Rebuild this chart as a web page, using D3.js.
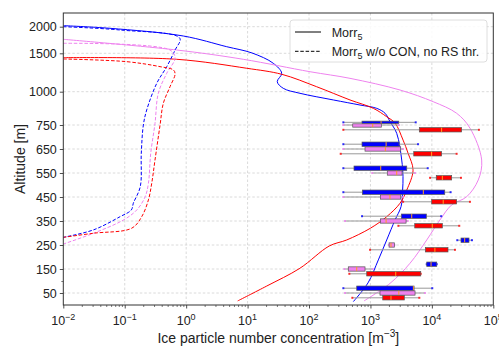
<!DOCTYPE html>
<html><head><meta charset="utf-8">
<script src="https://cdn.jsdelivr.net/npm/d3@7"></script>
<style>
body{margin:0;background:#fff}
svg{display:block;font-family:"Liberation Sans",Arial,sans-serif}
</style>
</head><body>
<svg id="chart" width="499" height="347"></svg>
<script>
// ---------- data ----------
const xTickValues = [1e-2, 1e-1, 1e0, 1e1, 1e2, 1e3, 1e4, 1e5];
const xTickExponents = ["\u22122", "\u22121", "0", "1", "2", "3", "4", "5"];
const yTickValues = [50, 150, 250, 350, 450, 550, 650, 750, 1000, 1500, 2000];
const yMinorTicks = [100];
const levels = [50, 150, 250, 350, 450, 550, 650, 750];

// box stats per level: [whiskerLow, q1, median, q3, whiskerHigh]
const boxBlue = [
  [362, 598, 5000, 5130, 10150],
  [8250, 8250, 9700, 12000, 12000],
  [25900, 29800, 34200, 40200, 45000],
  [729, 3180, 4700, 8130, 14200],
  [362, 738, 7260, 16200, 20200],
  [362, 540, 1470, 3900, 8570],
  [362, 729, 1800, 2920, 5960],
  [362, 729, 1490, 2890, 5460]
];
const boxViolet = [
  [385, 1430, 2900, 5320, 7740],
  [376, 436, 598, 816, 1090],
  [2010, 2010, 2160, 2450, 2450],
  [385, 1450, 1800, 3800, 4050],
  [362, 1450, 2080, 3110, 3400],
  [1070, 1880, 2680, 3270, 5320],
  [362, 816, 1750, 3110, 3400],
  [362, 515, 1090, 1505, 2920]
];
const boxRed = [
  [507, 1585, 2160, 3560, 6250],
  [453, 870, 2580, 6590, 6590],
  [985, 7830, 11200, 18300, 23800],
  [2850, 5260, 10150, 14800, 27900],
  [3400, 9930, 15300, 25300, 41700],
  [9340, 11800, 14800, 21000, 29800],
  [328, 5070, 9900, 14400, 25300],
  [362, 6250, 14400, 30500, 58400]
];

// profiles: [concentration, altitude]
const solidBlue = [[0.01,2019],[0.0575,1970],[0.9,1825],[4.57,1624],[11.8,1506],[26.2,1370],[35.9,1240],[30.4,1130],[38.1,1044],[71.3,988],[249,938],[676,900],[1267,875],[1729,838],[2084,775],[2680,715],[3230,604],[3390,535],[3340,479],[3150,410],[2510,354],[1840,271],[1345,188],[912,92],[526,14]];
const solidViolet = [[0.01,1763],[0.70,1562],[8.5,1422],[104,1260],[465,1174],[3030,1022],[10500,925],[25300,838],[41700,737],[64700,604],[56900,521],[36800,451],[21000,417],[13500,354],[8250,271],[4410,174],[2080,90],[786,17]];
const solidRed = [[0.01,1443],[0.70,1422],[9.7,1305],[35.9,1227],[133,1065],[465,938],[1115,875],[1840,812],[2510,765],[3400,687],[4090,633],[4940,562],[3900,479],[3030,424],[1840,368],[1000,320],[411,271],[214,246],[71,153],[20.5,79],[6.9,17]];
const dashBlue = [[0.01,2000],[0.084,1938],[0.79,1782],[0.66,1562],[0.483,1326],[0.332,1109],[0.228,863],[0.201,750],[0.186,632],[0.179,493],[0.138,424],[0.128,396],[0.084,368],[0.031,313],[0.01,282]];
const dashViolet = [[0.01,1688],[0.546,1562],[0.66,1439],[0.483,1240],[0.352,988],[0.311,762],[0.265,632],[0.243,507],[0.215,451],[0.157,396],[0.095,354],[0.031,299],[0.01,254]];
const dashRed = [[0.01,1426],[0.108,1391],[0.376,1326],[0.62,1283],[0.66,1230],[0.546,1065],[0.425,913],[0.376,750],[0.311,604],[0.275,507],[0.243,438],[0.189,368],[0.13,320],[0.031,299],[0.01,282]];

const legendLabels = [["Morr", "5", ""], ["Morr", "5", " w/o CON, no RS thr."]];
const xLabel = "Ice particle number concentration [m";
const yLabel = "Altitude [m]";

// ---------- layout ----------
const L = 63.3, R = 493.3, T = 13, B = 305;
const svg = d3.select("#chart");

const x = d3.scaleLog().domain([1e-2, 1e5]).range([L, R]);
const y = d3.scaleLinear().domain([0, 750, 1000, 1500, 2000, 2250])
  .range([B, 125, 91.7, 53.3, 26.7, T]);

svg.append("defs").append("clipPath").attr("id", "clip")
  .append("rect").attr("x", L).attr("y", T).attr("width", R - L).attr("height", B - T);

// grid
const grid = svg.append("g");
grid.selectAll("line.gx").data(xTickValues.slice(1, -1)).join("line")
  .attr("x1", d => x(d)).attr("x2", d => x(d)).attr("y1", T).attr("y2", B)
  .attr("stroke", "#d0d0d0").attr("stroke-width", 0.8).attr("stroke-dasharray", "2.5,2");
grid.selectAll("line.gy").data(yTickValues).join("line")
  .attr("y1", d => y(d)).attr("y2", d => y(d)).attr("x1", L).attr("x2", R)
  .attr("stroke", "#d0d0d0").attr("stroke-width", 0.8).attr("stroke-dasharray", "2.5,2");

// profile lines
const plot = svg.append("g").attr("clip-path", "url(#clip)");
const line = d3.line().x(d => x(d[0])).y(d => y(d[1])).curve(d3.curveCatmullRom.alpha(0.5));
const profiles = [
  [solidBlue, "#0000ff", null], [solidViolet, "#ee82ee", null], [solidRed, "#ff0000", null],
  [dashBlue, "#0000ff", "3.5,1.8"], [dashViolet, "#ee82ee", "3.5,1.8"], [dashRed, "#ff0000", "3.5,1.8"]
];
profiles.forEach(([data, col, dash]) => {
  plot.append("path").datum(data).attr("d", line).attr("fill", "none")
    .attr("stroke", col).attr("stroke-width", 1).attr("stroke-dasharray", dash);
});

// boxes
const boxSeries = [[boxBlue, "#0000ff", 20], [boxViolet, "#ee82ee", 0], [boxRed, "#ff0000", -20]];
const halfH = 9;
boxSeries.forEach(([stats, col, off]) => {
  const g = plot.append("g");
  stats.forEach((s, i) => {
    const c = levels[i] + off;
    const yc = y(c), yt = y(c + halfH), yb = y(c - halfH);
    g.append("line").attr("x1", x(s[0])).attr("x2", x(s[1])).attr("y1", yc).attr("y2", yc)
      .attr("stroke", "#999").attr("stroke-width", 1);
    g.append("line").attr("x1", x(s[3])).attr("x2", x(s[4])).attr("y1", yc).attr("y2", yc)
      .attr("stroke", "#999").attr("stroke-width", 1);
    [s[0], s[4]].forEach(v => {
      g.append("rect").attr("x", x(v) - 1).attr("y", yc - 1).attr("width", 2).attr("height", 2)
        .attr("fill", col).attr("opacity", 0.8);
    });
    g.append("rect").attr("x", x(s[1])).attr("y", yt).attr("width", Math.max(1, x(s[3]) - x(s[1])))
      .attr("height", yb - yt).attr("fill", col).attr("stroke", "#555").attr("stroke-width", 0.7);
    g.append("line").attr("x1", x(s[2])).attr("x2", x(s[2])).attr("y1", yt).attr("y2", yb)
      .attr("stroke", "#ff9f1e").attr("stroke-width", 1);
  });
});

// axes
const axB = svg.append("g").attr("transform", `translate(0,${B})`)
  .call(d3.axisBottom(x).tickValues(xTickValues).tickSize(3.5).tickFormat(""));
axB.select(".domain").remove();
axB.selectAll(".tick line").attr("stroke", "#222").attr("stroke-width", 0.8);
const minor = x.ticks().filter(v => !xTickValues.includes(v));
const axBm = svg.append("g").attr("transform", `translate(0,${B})`)
  .call(d3.axisBottom(x).tickValues(minor).tickSize(2).tickFormat(""));
axBm.select(".domain").remove();
axBm.selectAll(".tick line").attr("stroke", "#222").attr("stroke-width", 0.6);

const xl = svg.append("g");
xTickValues.forEach((v, i) => {
  const t = xl.append("text").attr("x", x(v)).attr("y", 325).attr("text-anchor", "middle")
    .attr("font-size", 12.5).attr("fill", "#222");
  t.append("tspan").text("10");
  t.append("tspan").attr("dy", -5.5).attr("font-size", 9).text(xTickExponents[i]);
});

const axL = svg.append("g").attr("transform", `translate(${L},0)`)
  .call(d3.axisLeft(y).tickValues(yTickValues).tickSize(3.5).tickPadding(3).tickFormat(d3.format("d")));
axL.select(".domain").remove();
axL.selectAll(".tick line").attr("stroke", "#222").attr("stroke-width", 0.8);
axL.selectAll(".tick text").attr("font-size", 12.5).attr("fill", "#222")
  .attr("font-family", '"Liberation Sans",Arial,sans-serif');
const axLm = svg.append("g").attr("transform", `translate(${L},0)`)
  .call(d3.axisLeft(y).tickValues(yMinorTicks).tickSize(2).tickFormat(""));
axLm.select(".domain").remove();
axLm.selectAll(".tick line").attr("stroke", "#222").attr("stroke-width", 0.6);

// frame
svg.append("rect").attr("x", L).attr("y", T).attr("width", R - L).attr("height", B - T)
  .attr("fill", "none").attr("stroke", "#333").attr("stroke-width", 1);

// axis labels
const xt = svg.append("text").attr("x", (L + R) / 2).attr("y", 343).attr("text-anchor", "middle")
  .attr("font-size", 14).attr("fill", "#222");
xt.append("tspan").text(xLabel);
xt.append("tspan").attr("dy", -6).attr("font-size", 10).text("\u22123");
xt.append("tspan").attr("dy", 6).text("]");

svg.append("text").attr("transform", `translate(25,${(T + B) / 2}) rotate(-90)`)
  .attr("text-anchor", "middle").attr("font-size", 14).attr("fill", "#222").text(yLabel);

// legend
const lg = svg.append("g");
lg.append("rect").attr("x", 290).attr("y", 20).attr("width", 197).attr("height", 42).attr("rx", 3)
  .attr("fill", "#fff").attr("fill-opacity", 0.85).attr("stroke", "#d5d5d5").attr("stroke-width", 0.8);
legendLabels.forEach((lab, i) => {
  const ly = 32 + i * 19.3;
  lg.append("line").attr("x1", 295).attr("x2", 321).attr("y1", ly).attr("y2", ly)
    .attr("stroke", "#000").attr("stroke-width", 1).attr("stroke-dasharray", i ? "3.5,1.8" : null);
  const t = lg.append("text").attr("x", 331.7).attr("y", ly + 4.5).attr("font-size", 12.5).attr("fill", "#222");
  t.append("tspan").text(lab[0]);
  t.append("tspan").attr("dy", 3).attr("font-size", 9).text(lab[1]);
  t.append("tspan").attr("dy", -3).text(lab[2]);
});
</script>
</body></html>
